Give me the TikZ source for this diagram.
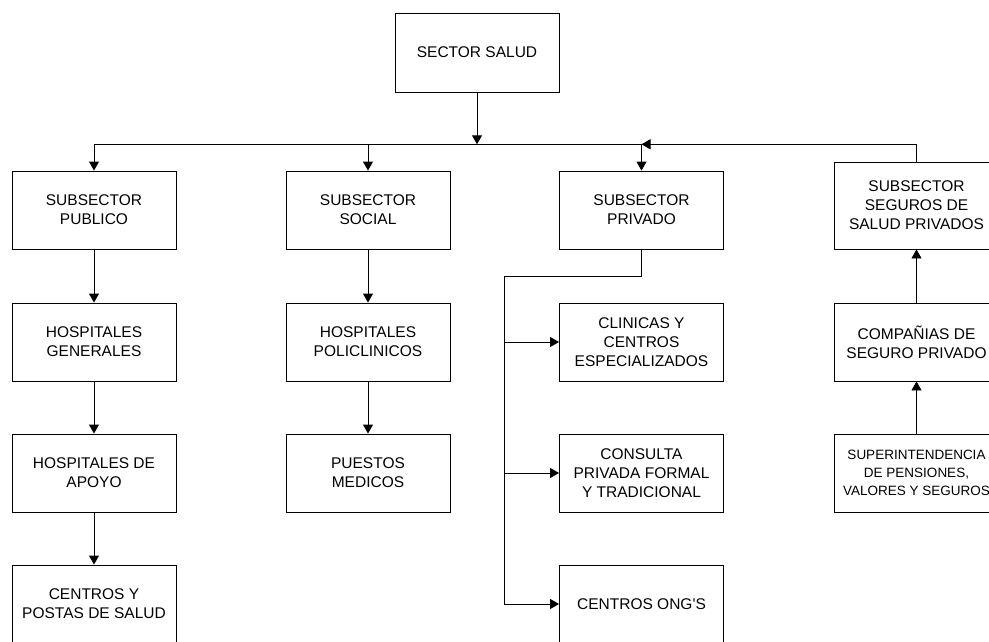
\documentclass[tikz,border=0pt]{standalone}
\usepackage{fontspec}
\setmainfont{Liberation Sans}
\usetikzlibrary{arrows.meta, calc, positioning}
\tikzset{
  org arrow/.style={-{Triangle[length=9pt,width=10pt]}, line width=0.9pt},
  org line/.style={line width=0.9pt},
}

\begin{document}
\begin{tikzpicture}[x=1pt, y=-1pt,
    unit/.style={draw=black, fill=white, line width=0.9pt, align=center,
                 minimum width=164pt, minimum height=78pt, inner sep=2pt,
                 font=\fontsize{15.5}{19}\selectfont},
    small unit/.style={unit, font=\fontsize{13.5}{18.3}\selectfont}]
  \useasboundingbox (0,0) rectangle (989,641);
  % Nodes
  \node[unit, minimum height=79pt] (sec) at (477,52.5) {SECTOR SALUD};
  \node[unit] (pub)  at (94,210)    {SUBSECTOR\\PUBLICO};
  \node[unit] (soc)  at (368,210)   {SUBSECTOR\\SOCIAL};
  \node[unit] (priv) at (641.5,210) {SUBSECTOR\\PRIVADO};
  \node[unit, minimum height=87pt] (seg) at (916.5,205.5) {SUBSECTOR\\SEGUROS DE\\SALUD PRIVADOS};
  \node[unit] (hg)   at (94,342)    {HOSPITALES\\GENERALES};
  \node[unit] (hp)   at (368,342)   {HOSPITALES\\POLICLINICOS};
  \node[unit] (clin) at (641.5,342) {CLINICAS Y\\CENTROS\\ESPECIALIZADOS};
  \node[unit] (comp) at (916.5,342) {COMPAÑIAS DE\\SEGURO PRIVADO};
  \node[unit] (ha)   at (94,473)    {HOSPITALES DE\\APOYO};
  \node[unit] (pm)   at (368,473)   {PUESTOS\\MEDICOS};
  \node[unit] (cons) at (641.5,473) {CONSULTA\\PRIVADA FORMAL\\Y TRADICIONAL};
  \node[small unit] (sup) at (916.5,473) {SUPERINTENDENCIA\\DE PENSIONES,\\VALORES Y SEGUROS};
  \node[unit] (cps)  at (94,604)    {CENTROS Y\\POSTAS DE SALUD};
  \node[unit] (ong)  at (641.5,604) {CENTROS ONG\textquotesingle S};
  \coordinate (bus) at (477,144.3);
  \coordinate (trunk) at (504.3,276);
  % Arrows
  \draw[org arrow] (sec.south) -- (sec.south |- bus);
  \draw[org line]  (pub.north |- bus) -- (priv.north |- bus);
  \draw[org arrow] (pub.north |- bus) -- (pub.north);
  \draw[org arrow] (soc.north |- bus) -- (soc.north);
  \draw[org arrow] (priv.north |- bus) -- (priv.north);
  \draw[org arrow] (seg.north) |- (priv.north |- bus);
  \draw[org arrow] (pub) -- (hg);
  \draw[org arrow] (hg) -- (ha);
  \draw[org arrow] (ha) -- (cps);
  \draw[org arrow] (soc) -- (hp);
  \draw[org arrow] (hp) -- (pm);
  \draw[org arrow] (sup) -- (comp);
  \draw[org arrow] (comp) -- (seg);
  \draw[org arrow] (priv.south) |- (trunk) |- (ong.west);
  \draw[org arrow] (trunk |- clin.west) -- (clin.west);
  \draw[org arrow] (trunk |- cons.west) -- (cons.west);
\end{tikzpicture}
\end{document}
